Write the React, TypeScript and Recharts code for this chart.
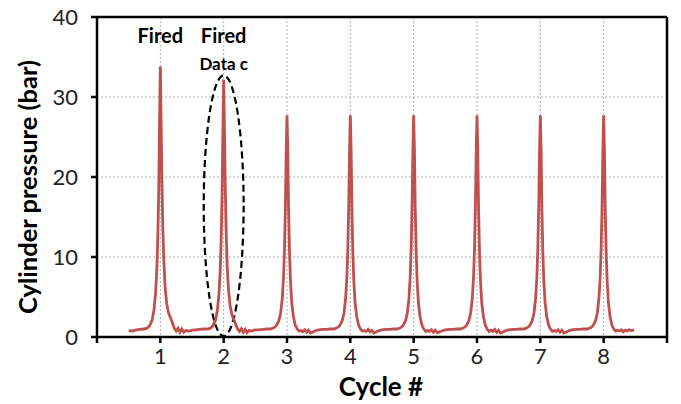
import React from 'react';
import { LineChart, Line, XAxis, YAxis, CartesianGrid, ReferenceLine, ReferenceArea, ReferenceDot } from 'recharts';

// sampling offsets around each cycle's TDC (in cycle units)
const offsets = [-0.5, -0.44, -0.38, -0.32, -0.26, -0.21, -0.17, -0.13, -0.1, -0.075, -0.055, -0.04, -0.025, -0.012, 0, 0.012, 0.025, 0.04, 0.055, 0.075, 0.1, 0.13, 0.16, 0.19, 0.22, 0.25, 0.28, 0.31, 0.34, 0.37, 0.4, 0.44, 0.48];

const cycles = [1, 2, 3, 4, 5, 6, 7, 8];

const cycle1 = [0.8, 0.75, 0.9, 0.95, 1.0, 1.1, 1.4, 2.1, 3.4, 5.5, 8.5, 12.5, 18.5, 27, 33.8, 27, 19.5, 13.5, 9.5, 6.3, 4.2, 3.0, 2.4, 1.8, 1.1, 0.75, 1.1, 0.6, 1.0, 0.6, 0.8, 0.75, 0.8];
const cycle2 = [0.85, 0.9, 0.95, 1.0, 1.0, 1.1, 1.4, 2.1, 3.3, 5.3, 8.2, 12, 18, 26, 32.2, 26, 19, 13, 9, 6, 4.0, 2.8, 2.2, 1.6, 1.0, 0.7, 1.05, 0.6, 0.95, 0.55, 0.8, 0.75, 0.85];
const cycle3 = [0.9, 0.9, 0.95, 1.0, 1.0, 1.15, 1.4, 2.0, 3.0, 4.8, 7.4, 11, 16.5, 23.5, 27.7, 23.5, 16, 10.5, 7, 4.3, 2.6, 1.5, 1.0, 0.75, 0.8, 0.65, 0.9, 0.6, 0.85, 0.5, 0.6, 0.75, 0.85];
const cycle4 = [0.9, 0.95, 0.95, 1.0, 1.0, 1.15, 1.4, 2.0, 3.0, 4.8, 7.4, 11, 16.5, 23.5, 27.7, 23.5, 16, 10.5, 7, 4.3, 2.6, 1.5, 1.0, 0.75, 0.8, 0.7, 0.95, 0.65, 0.85, 0.5, 0.6, 0.75, 0.85];
const cycle5 = [0.9, 0.95, 0.95, 1.0, 1.0, 1.15, 1.4, 2.0, 3.0, 4.8, 7.4, 11, 16.5, 23.5, 27.7, 23.5, 16, 10.5, 7, 4.3, 2.6, 1.5, 1.0, 0.7, 0.8, 0.7, 0.9, 0.6, 0.85, 0.55, 0.6, 0.75, 0.85];
const cycle6 = [0.9, 0.95, 0.95, 1.0, 1.0, 1.15, 1.4, 2.0, 3.0, 4.8, 7.4, 11, 16.5, 23.5, 27.7, 23.5, 16, 10.5, 7, 4.3, 2.6, 1.5, 1.0, 0.7, 0.85, 0.7, 0.95, 0.6, 0.85, 0.5, 0.6, 0.75, 0.85];
const cycle7 = [0.9, 0.95, 0.95, 1.0, 1.0, 1.15, 1.4, 2.0, 3.0, 4.8, 7.4, 11, 16.5, 23.5, 27.7, 23.5, 16, 10.5, 7, 4.3, 2.6, 1.5, 1.0, 0.7, 0.8, 0.7, 0.9, 0.6, 0.85, 0.5, 0.6, 0.75, 0.85];
const cycle8 = [0.9, 0.95, 0.95, 1.0, 1.0, 1.15, 1.4, 2.0, 3.0, 4.8, 7.4, 11, 16.5, 23.5, 27.7, 23.5, 16, 10.5, 7, 4.3, 2.6, 1.5, 1.0, 0.75, 0.85, 0.75, 0.9, 0.65, 0.85, 0.75, 0.9, 0.8, 0.9];
const pressures = [cycle1, cycle2, cycle3, cycle4, cycle5, cycle6, cycle7, cycle8];

const xTicks = [0, 1, 2, 3, 4, 5, 6, 7, 8, 9];
const yTicks = [0, 10, 20, 30, 40];

const firedLabels = [
  { x: 1, y: 37.6, text: 'Fired' },
  { x: 2, y: 37.6, text: 'Fired' },
];
const dataLabel = { x: 2, y: 34.1, text: 'Data c' };
const highlight = { x1: 1.685, x2: 2.315, y1: 0.1, y2: 32.7 };

const data: { x: number; p: number }[] = [];
cycles.forEach((c, i) => {
  offsets.forEach((o, j) => {
    data.push({ x: +(c + o).toFixed(3), p: pressures[i][j] });
  });
});

const FONT = 'Lato, "Open Sans", sans-serif';

export default function App() {
  return (
    <div style={{ position: 'absolute', left: 0, top: 0, width: 681, height: 404, background: '#fff' }}>
      <LineChart width={681} height={404} data={data} margin={{ top: 17, right: 14, bottom: 17, left: 17 }}>
        <CartesianGrid stroke="#999" strokeDasharray="2 2" strokeWidth={0.8} />
        <XAxis
          dataKey="x"
          type="number"
          domain={[0, 9]}
          ticks={xTicks}
          interval={0}
          tickFormatter={(v) => (v === 0 || v === 9 ? '' : String(v))}
          axisLine={{ stroke: '#000', strokeWidth: 2.5 }}
          tickLine={{ stroke: '#000', strokeWidth: 2.5 }}
          tickSize={6}
          tickMargin={5}
          height={50}
          tick={{ fill: '#222', fontSize: 22, fontFamily: FONT }}
          label={{
            content: (props: any) => {
              const vb = props.viewBox;
              return (
                <text x={vb.x + vb.width / 2 - 1} y={vb.y + 59} textAnchor="middle" fontFamily={FONT} fontWeight="bold" fontSize={26} fill="#000">
                  Cycle #
                </text>
              );
            },
          }}
        />
        <YAxis
          type="number"
          domain={[0, 40]}
          ticks={yTicks}
          interval={0}
          axisLine={{ stroke: '#000', strokeWidth: 2.5 }}
          tickLine={{ stroke: '#000', strokeWidth: 2.5 }}
          tickSize={6}
          tickMargin={13}
          width={80}
          tick={{ fill: '#222', fontSize: 22, fontFamily: FONT }}
          label={{
            content: (props: any) => {
              const vb = props.viewBox;
              const cx = vb.x + 10;
              const cy = vb.y + vb.height / 2 + 10;
              return (
                <text x={cx} y={cy} transform={`rotate(-90, ${cx}, ${cy})`} textAnchor="middle" dominantBaseline="central" fontFamily={FONT} fontWeight="bold" fontSize={25.5} fill="#000">
                  Cylinder pressure (bar)
                </text>
              );
            },
          }}
        />
        <ReferenceLine y={40} stroke="#000" strokeWidth={2.5} />
        <ReferenceLine x={9} stroke="#000" strokeWidth={2.5} />
        <Line type="linear" dataKey="p" stroke="#C0504D" strokeWidth={2.8} dot={false} isAnimationActive={false} />
        <ReferenceArea
          x1={highlight.x1}
          x2={highlight.x2}
          y1={highlight.y1}
          y2={highlight.y2}
          shape={(props: any) => (
            <ellipse
              cx={props.x + props.width / 2}
              cy={props.y + props.height / 2}
              rx={props.width / 2}
              ry={props.height / 2}
              fill="none"
              stroke="#000"
              strokeWidth={2.2}
              strokeDasharray="7 4"
            />
          )}
        />
        {firedLabels.map((l, i) => (
          <ReferenceDot
            key={i}
            x={l.x}
            y={l.y}
            r={0}
            stroke="none"
            fill="none"
            label={{ value: l.text, position: 'center', fontFamily: FONT, fontWeight: 'bold', fontSize: 20, fill: '#000' }}
          />
        ))}
        <ReferenceDot
          x={dataLabel.x}
          y={dataLabel.y}
          r={0}
          stroke="none"
          fill="none"
          label={{ value: dataLabel.text, position: 'center', fontFamily: FONT, fontWeight: 'bold', fontSize: 17, fill: '#000' }}
        />
      </LineChart>
    </div>
  );
}
